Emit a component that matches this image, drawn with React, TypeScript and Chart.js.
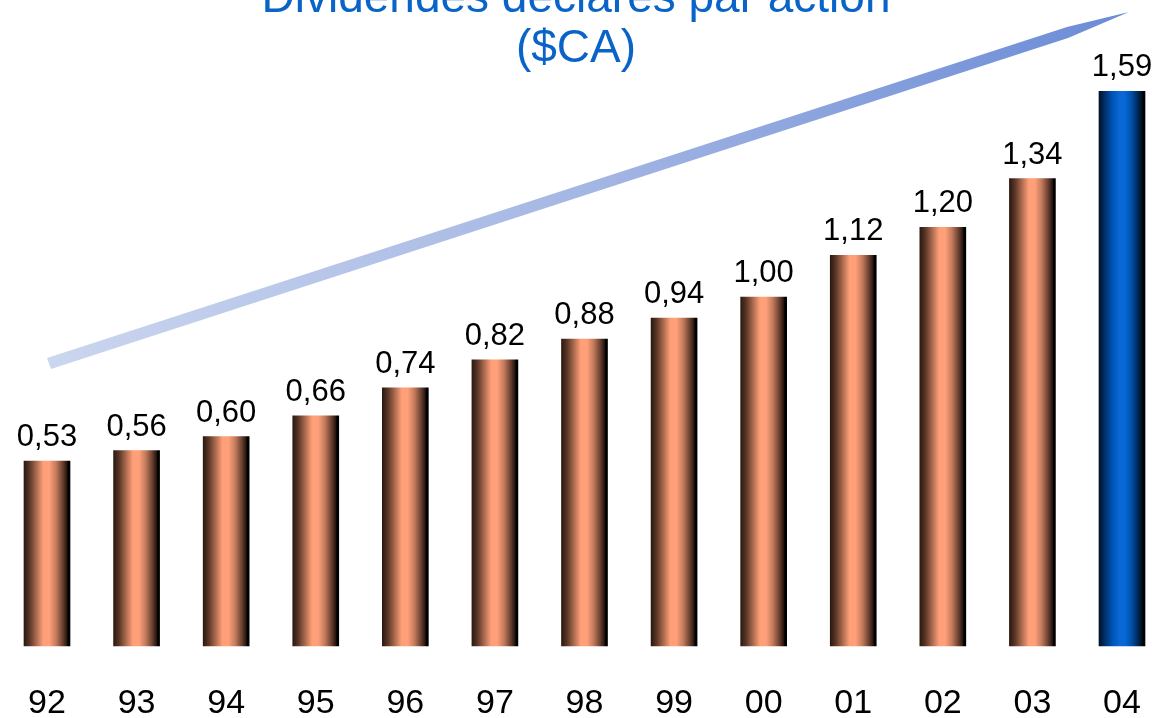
import React, { useEffect, useRef } from "react";
import { Chart, registerables } from "chart.js";

Chart.register(...registerables);

const years = ["92", "93", "94", "95", "96", "97", "98", "99", "00", "01", "02", "03", "04"];
const dividends = [0.53, 0.56, 0.6, 0.66, 0.74, 0.82, 0.88, 0.94, 1.0, 1.12, 1.2, 1.34, 1.59];
const valueLabels = ["0,53", "0,56", "0,60", "0,66", "0,74", "0,82", "0,88", "0,94", "1,00", "1,12", "1,20", "1,34", "1,59"];
const titleLines = ["Dividendes déclarés par action", "($CA)"];
const highlightIndex = 12;

const FONT = "'Liberation Sans', Arial, Helvetica, sans-serif";

const copperStops: [number, string][] = [
  [0, "#2a1910"],
  [0.12, "#5a3626"],
  [0.28, "#b06e52"],
  [0.42, "#ff9f78"],
  [0.55, "#ffa07a"],
  [0.7, "#c27a5c"],
  [0.84, "#6a4030"],
  [0.93, "#2a1810"],
  [0.96, "#000000"],
  [1, "#000000"],
];
const blueStops: [number, string][] = [
  [0, "#001226"],
  [0.12, "#002e66"],
  [0.28, "#0052b0"],
  [0.45, "#0a68d6"],
  [0.55, "#0a68d6"],
  [0.7, "#0052ac"],
  [0.84, "#002a5c"],
  [0.93, "#00101e"],
  [0.96, "#000000"],
  [1, "#000000"],
];

const barGradientPlugin = {
  id: "barGradient",
  beforeDatasetsDraw(chart: any) {
    const ctx = chart.ctx;
    const meta = chart.getDatasetMeta(0);
    meta.data.forEach((el: any, i: number) => {
      const half = el.width / 2;
      const g = ctx.createLinearGradient(el.x - half, 0, el.x + half, 0);
      const stops = i === highlightIndex ? blueStops : copperStops;
      stops.forEach(([o, c]) => g.addColorStop(o, c));
      el.options.backgroundColor = g;
    });
  },
};

const decorPlugin = {
  id: "decor",
  beforeDatasetsDraw(chart: any) {
    const ctx = chart.ctx;
    ctx.save();
    const g = ctx.createLinearGradient(47, 362, 1129, 12);
    g.addColorStop(0, "#cbd6ef");
    g.addColorStop(0.5, "#a4b6e3");
    g.addColorStop(1, "#6a8bd6");
    ctx.fillStyle = g;
    ctx.beginPath();
    ctx.moveTo(47, 358);
    ctx.lineTo(1067, 27);
    ctx.lineTo(1129, 12);
    ctx.lineTo(1068, 38);
    ctx.lineTo(51, 369);
    ctx.closePath();
    ctx.fill();
    ctx.restore();
  },
  afterDatasetsDraw(chart: any) {
    const ctx = chart.ctx;
    ctx.save();
    const meta = chart.getDatasetMeta(0);
    ctx.fillStyle = "#000000";
    ctx.font = `31px ${FONT}`;
    ctx.textAlign = "center";
    ctx.textBaseline = "alphabetic";
    meta.data.forEach((el: any, i: number) => {
      ctx.fillText(valueLabels[i], el.x, el.y - 15);
    });
    ctx.fillStyle = "#0a64c8";
    ctx.font = `46px ${FONT}`;
    const cx = chart.width / 2;
    ctx.fillText(titleLines[0], cx, 12);
    ctx.fillText(titleLines[1], cx, 62);
    ctx.restore();
  },
};

export default function App() {
  const canvasRef = useRef<HTMLCanvasElement | null>(null);

  useEffect(() => {
    document.body.style.margin = "0";
    const canvas = canvasRef.current;
    if (!canvas) return;
    const chart = new Chart(canvas, {
      type: "bar",
      data: {
        labels: years,
        datasets: [
          {
            data: dividends,
            backgroundColor: (c: any) => (c.dataIndex === highlightIndex ? "#0a68d6" : "#ffa07a"),
            borderWidth: 0,
            barThickness: 46,
            clip: false as any,
          },
        ],
      },
      options: {
        responsive: false,
        animation: false,
        events: [],
        layout: { padding: { left: 47, right: 30, top: 39, bottom: 0 } },
        plugins: {
          legend: { display: false },
          tooltip: { enabled: false },
          title: { display: false },
        },
        scales: {
          x: {
            offset: false,
            grid: { display: false, drawTicks: false },
            border: { display: false },
            ticks: {
              color: "#000000",
              padding: 41,
              font: { family: FONT, size: 34, lineHeight: 1 },
              maxRotation: 0,
              minRotation: 0,
              autoSkip: false,
            },
            afterFit: (scale: any) => {
              scale.height = 72;
              scale.paddingLeft = 0;
              scale.paddingRight = 0;
              scale.paddingTop = 0;
              scale.paddingBottom = 0;
            },
          },
          y: {
            display: false,
            min: 0,
            max: 1.74,
          },
        },
      },
      plugins: [barGradientPlugin, decorPlugin],
    });
    return () => chart.destroy();
  }, []);

  return (
    <div style={{ width: 1152, height: 718, position: "relative", background: "#ffffff" }}>
      <canvas ref={canvasRef} width={1152} height={718} style={{ display: "block" }} />
    </div>
  );
}
